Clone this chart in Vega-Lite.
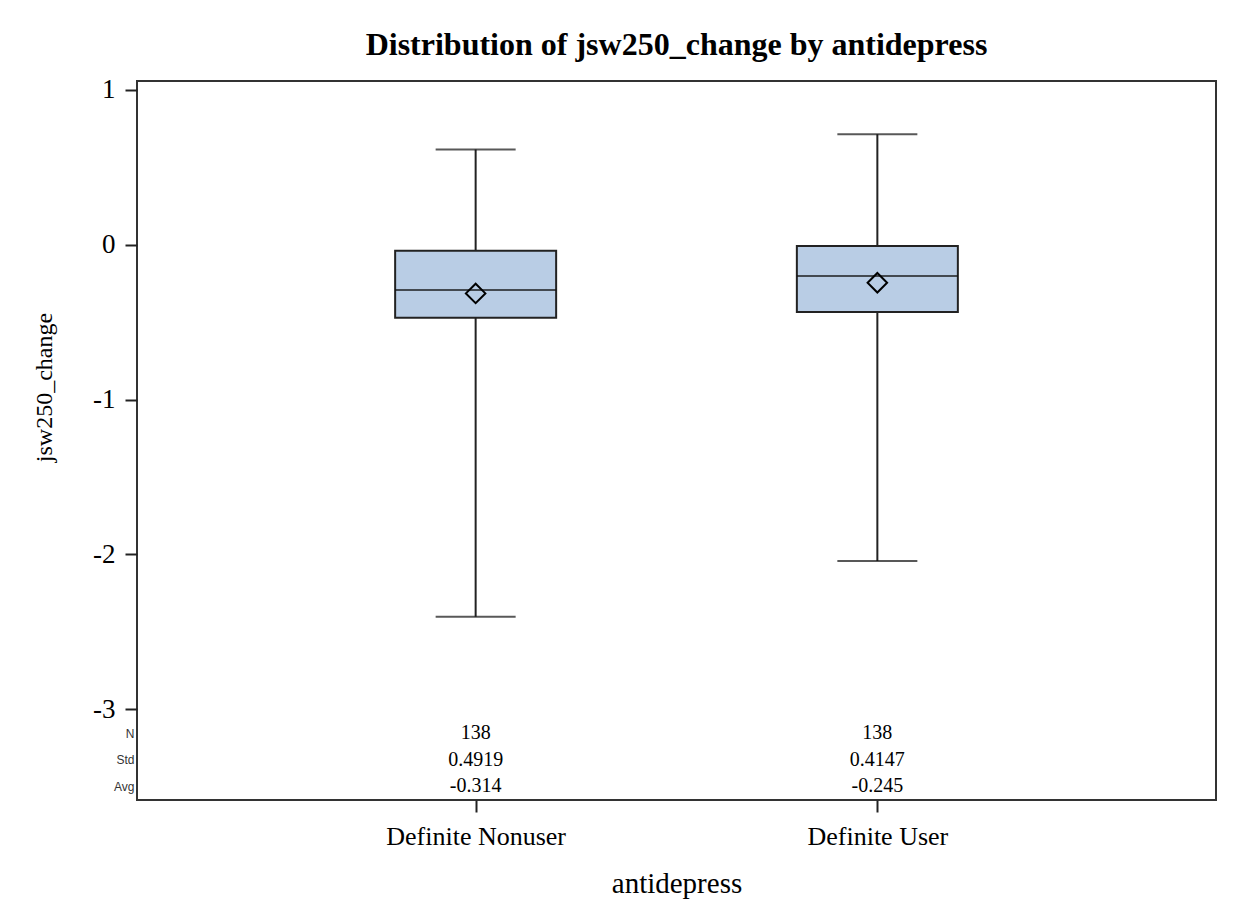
{
  "$schema": "https://vega.github.io/schema/vega-lite/v6.json",
  "width": 1079,
  "height": 719,
  "autosize": {"type": "none"},
  "padding": {"left": 137, "top": 81, "right": 20, "bottom": 124},
  "background": "white",
  "title": {
    "text": "Distribution of jsw250_change by antidepress",
    "font": "Liberation Serif",
    "fontSize": 32,
    "fontWeight": "bold",
    "color": "black",
    "anchor": "middle",
    "offset": 14
  },
  "config": {
    "view": {"stroke": "#333333", "strokeWidth": 2},
    "axis": {"grid": false, "domain": false}
  },
  "datasets": {
    "boxes": [
      {"antidepress": "Definite Nonuser", "lower": -2.402, "q1": -0.471, "median": -0.292, "q3": -0.038, "upper": 0.616, "mean": -0.314},
      {"antidepress": "Definite User", "lower": -2.043, "q1": -0.434, "median": -0.2015, "q3": -0.008, "upper": 0.714, "mean": -0.245}
    ],
    "stats": [
      {"antidepress": "Definite Nonuser", "stat": "N", "value": "138"},
      {"antidepress": "Definite Nonuser", "stat": "Std", "value": "0.4919"},
      {"antidepress": "Definite Nonuser", "stat": "Avg", "value": "-0.314"},
      {"antidepress": "Definite User", "stat": "N", "value": "138"},
      {"antidepress": "Definite User", "stat": "Std", "value": "0.4147"},
      {"antidepress": "Definite User", "stat": "Avg", "value": "-0.245"}
    ]
  },
  "encoding": {
    "x": {
      "field": "antidepress",
      "type": "nominal",
      "scale": {"type": "point", "padding": 0.843, "domain": ["Definite Nonuser", "Definite User"]},
      "axis": {
        "title": "antidepress",
        "labelAngle": 0,
        "labelLimit": 0,
        "labelFont": "Liberation Serif",
        "labelFontSize": 26,
        "labelColor": "black",
        "labelPadding": 11,
        "tickSize": 12,
        "tickWidth": 2,
        "tickColor": "#222222",
        "titleFont": "Liberation Serif",
        "titleFontSize": 29,
        "titleFontWeight": "normal",
        "titleColor": "black",
        "titlePadding": 20
      }
    }
  },
  "layer": [
    {
      "data": {"name": "boxes"},
      "layer": [
        {
          "mark": {"type": "rule", "color": "#222222", "strokeWidth": 2},
          "encoding": {
            "y": {
              "field": "lower",
              "type": "quantitative",
              "scale": {"domain": [-3.586, 1.058], "nice": false, "zero": false},
              "axis": {
                "title": "jsw250_change",
                "values": [-3, -2, -1, 0, 1],
                "labelExpr": "'' + datum.value",
                "labelFont": "Liberation Serif",
                "labelFontSize": 27,
                "labelColor": "black",
                "labelPadding": 10,
                "tickSize": 12,
                "tickWidth": 2,
                "tickColor": "#222222",
                "titleFont": "Liberation Serif",
                "titleFontSize": 24,
                "titleFontWeight": "normal",
                "titleColor": "black",
                "titlePadding": 36,
                "titleY": 306
              }
            },
            "y2": {"field": "upper"}
          }
        },
        {
          "mark": {"type": "tick", "color": "#111111", "size": 80, "thickness": 2},
          "encoding": {"y": {"field": "lower", "type": "quantitative"}}
        },
        {
          "mark": {"type": "tick", "color": "#111111", "size": 80, "thickness": 2},
          "encoding": {"y": {"field": "upper", "type": "quantitative"}}
        },
        {
          "mark": {"type": "bar", "size": 161, "fill": "#b9cde5", "stroke": "#222222", "strokeWidth": 2},
          "encoding": {
            "y": {"field": "q1", "type": "quantitative"},
            "y2": {"field": "q3"}
          }
        },
        {
          "mark": {"type": "tick", "color": "#111111", "size": 161, "thickness": 2},
          "encoding": {"y": {"field": "median", "type": "quantitative"}}
        },
        {
          "mark": {"type": "point", "shape": "diamond", "filled": false, "stroke": "black", "strokeWidth": 2, "size": 380, "opacity": 1},
          "encoding": {"y": {"field": "mean", "type": "quantitative"}}
        }
      ]
    },
    {
      "data": {"name": "stats"},
      "mark": {"type": "text", "font": "Liberation Serif", "fontSize": 20, "color": "black", "baseline": "middle", "align": "center"},
      "encoding": {
        "y": {
          "field": "stat",
          "type": "ordinal",
          "scale": {"type": "point", "padding": 0, "domain": ["N", "Std", "Avg"], "range": [652, 705]},
          "axis": {
            "title": null,
            "orient": "left",
            "domain": false,
            "ticks": false,
            "labelFont": "Liberation Sans",
            "labelFontSize": 12,
            "labelColor": "#333333",
            "labelPadding": 3
          }
        },
        "text": {"field": "value"}
      }
    }
  ],
  "resolve": {"scale": {"y": "independent"}, "axis": {"y": "independent"}}
}
